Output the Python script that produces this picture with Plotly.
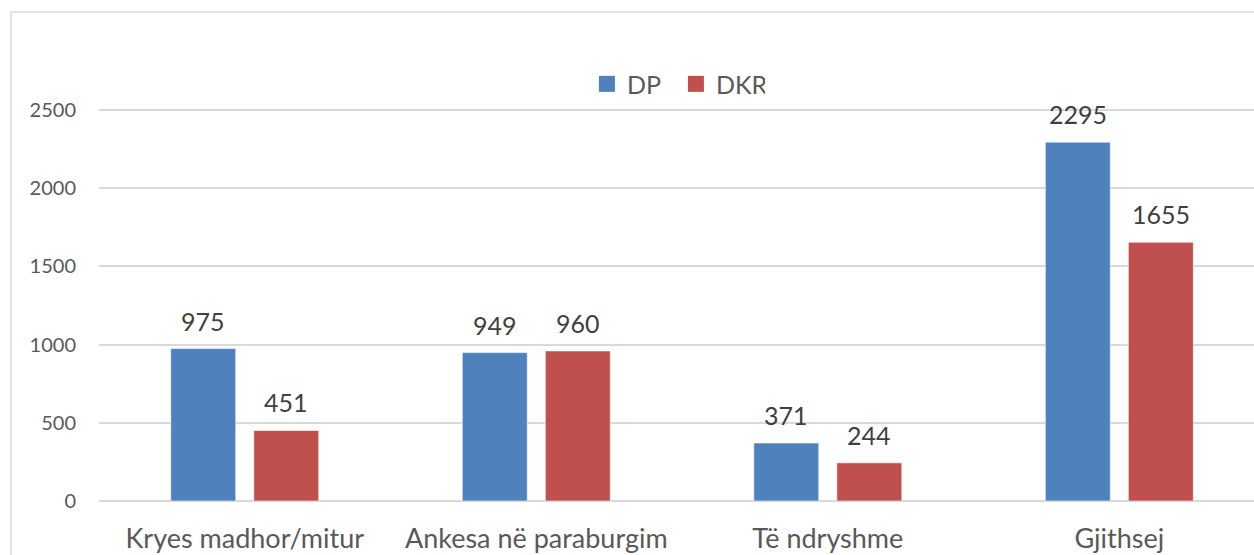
import plotly.graph_objects as go

categories = ["Kryes madhor/mitur", "Ankesa në paraburgim", "Të ndryshme", "Gjithsej"]
dp_values = [975, 949, 371, 2295]
dkr_values = [451, 960, 244, 1655]
y_ticks = [0, 500, 1000, 1500, 2000, 2500]

BLUE = "#4f81bd"
RED = "#c0504d"
FONT = "Lato"

fig = go.Figure()
fig.add_trace(go.Bar(name="DP", x=categories, y=dp_values, marker=dict(color=BLUE, line=dict(color="#ffffff", width=0.6)), showlegend=False))
fig.add_trace(go.Bar(name="DKR", x=categories, y=dkr_values, marker=dict(color=RED, line=dict(color="#ffffff", width=0.6)), showlegend=False))
# legend proxies
fig.add_trace(go.Scatter(name="DP", x=[None], y=[None], mode="markers", marker=dict(symbol="square", size=17, color=BLUE)))
fig.add_trace(go.Scatter(name="DKR", x=[None], y=[None], mode="markers", marker=dict(symbol="square", size=17, color=RED)))

# data labels
for cat, v in zip(categories, dp_values):
    fig.add_annotation(x=cat, y=v, text=str(v), showarrow=False, xshift=-41.5, yshift=11,
                       yanchor="bottom", font=dict(family=FONT, size=25, color="#404040"))
for cat, v in zip(categories, dkr_values):
    fig.add_annotation(x=cat, y=v, text=str(v), showarrow=False, xshift=41.5, yshift=11,
                       yanchor="bottom", font=dict(family=FONT, size=25, color="#404040"))

fig.add_shape(type="rect", xref="paper", yref="paper", x0=-0.0762, x1=2, y0=-1, y1=1.137,
              line=dict(color="#d9d9d9", width=1.5), fillcolor="rgba(0,0,0,0)", layer="below")

fig.update_layout(
    width=1254, height=555,
    margin=dict(l=99, r=0, t=71, b=54, pad=0),
    paper_bgcolor="white", plot_bgcolor="white",
    barmode="group", bargap=0.4305, bargroupgap=0.217,
    font=dict(family=FONT, color="#595959"),
    legend=dict(orientation="h", x=0.4995, xanchor="center", y=0.9695, yanchor="middle",
                font=dict(family=FONT, size=25, color="#595959"), bgcolor="rgba(0,0,0,0)",
                entrywidth=44, entrywidthmode="pixels"),
    xaxis=dict(range=[-0.5, 3.462], showgrid=False, showline=False, zeroline=False,
               tickfont=dict(family=FONT, size=27, color="#595959"), ticks="", ticklabelstandoff=19),
    yaxis=dict(range=[0, 2750], tickvals=y_ticks, showgrid=True, gridcolor="#d9d9d9", gridwidth=1.5,
               zeroline=True, zerolinecolor="#d9d9d9", zerolinewidth=1.5, showline=False,
               tickfont=dict(family=FONT, size=20, color="#595959"), ticks="", ticklabelstandoff=22),
)

fig.write_html("out.html", config={"displayModeBar": False},
               post_script="document.body.style.margin='0px';document.body.style.overflow='hidden';")
